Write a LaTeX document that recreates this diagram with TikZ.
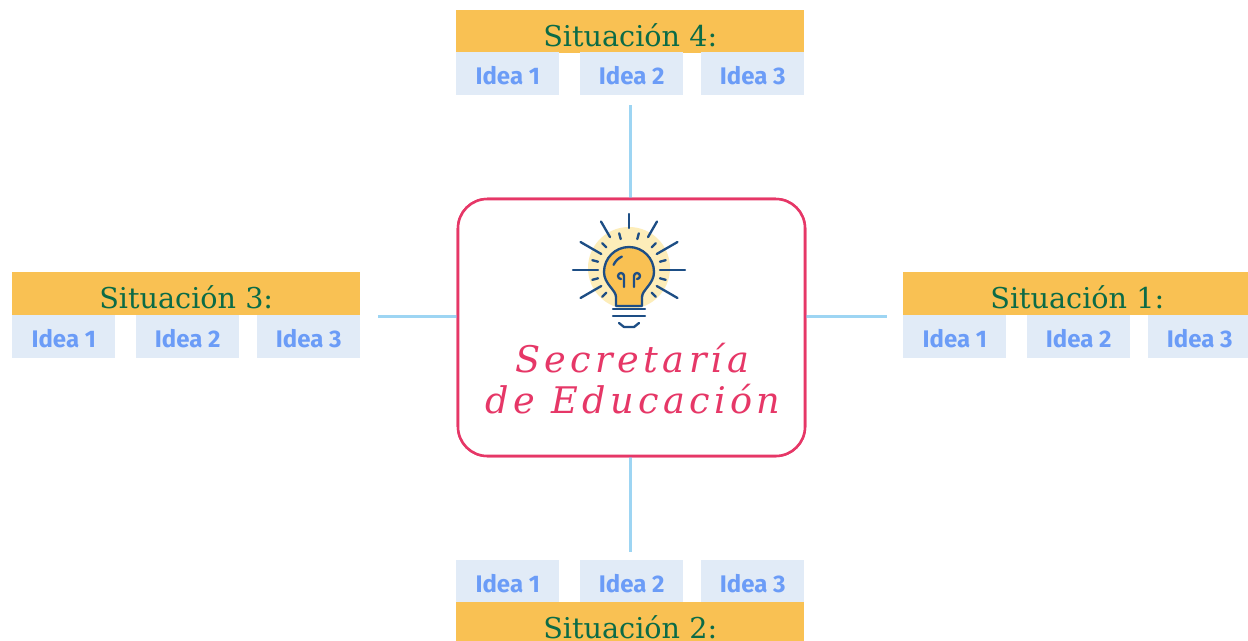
\documentclass[tikz,border=0pt]{standalone}
\usepackage{fontspec}
\newfontfamily\headfont{DejaVu Serif}
\newfontfamily\titlefont[LetterSpace=12]{DejaVu Serif}
\newfontfamily\ideafont{Fira Sans}
\definecolor{headc}{HTML}{F9C153}
\definecolor{greenc}{HTML}{0B6B47}
\definecolor{ideac}{HTML}{E1EBF7}
\definecolor{ideatxt}{HTML}{6B9CF7}
\definecolor{connc}{HTML}{9DD5F3}
\definecolor{pinkc}{HTML}{E63767}
\definecolor{rayc}{HTML}{1D4E85}
\definecolor{glowc}{HTML}{FDEDB9}
\definecolor{bulbc}{HTML}{F9C153}
\begin{document}
\begin{tikzpicture}[x=0.75pt,y=-0.75pt,
  headbox/.style={fill=headc, text=greenc, font=\headfont\fontsize{21.5}{24}\selectfont,
    minimum width=261pt, inner sep=0pt, text height=27pt, text depth=5.25pt, anchor=north west},
  ideabox/.style={fill=ideac, text=ideatxt, font=\ideafont\bfseries\fontsize{18}{20}\selectfont,
    minimum width=77.25pt, inner sep=0pt, text height=24pt, text depth=8.25pt, anchor=north west},
  conn/.style={draw=connc, line width=2.25pt},
  centerbox/.style={draw=pinkc, fill=white, line width=1.9pt, rounded corners=22pt,
    minimum width=260.25pt, minimum height=192.75pt, inner sep=0pt},
  titlest/.style={text=pinkc, font=\titlefont\itshape\fontsize{27.5}{30}\selectfont, inner sep=0pt, anchor=base},
  ray/.style={draw=rayc, line width=1.75pt, line cap=round},
  icon/.style={draw=rayc, line width=1.75pt, line cap=round, line join=round}]
\useasboundingbox (0,0) rectangle (1248,640);
\clip (0,0) rectangle (1248,640);

% top group (Situacion 4)
\node[headbox] (h4) at (456,10) {Situación 4:};
\node[ideabox] (t1) at (456,52) {Idea 1};
\node[ideabox] (t2) at (580,52) {Idea 2};
\node[ideabox] (t3) at (701,52) {Idea 3};

% left group (Situacion 3)
\node[headbox] (h3) at (12,272) {Situación 3:};
\node[ideabox] (l1) at (12,315) {Idea 1};
\node[ideabox] (l2) at (136,315) {Idea 2};
\node[ideabox] (l3) at (257,315) {Idea 3};

% right group (Situacion 1)
\node[headbox] (h1) at (903,272) {Situación 1:};
\node[ideabox] (r1) at (903,315) {Idea 1};
\node[ideabox] (r2) at (1027,315) {Idea 2};
\node[ideabox] (r3) at (1148,315) {Idea 3};

% bottom group (Situacion 2)
\node[ideabox] (b1) at (456,560) {Idea 1};
\node[ideabox] (b2) at (580,560) {Idea 2};
\node[ideabox] (b3) at (701,560) {Idea 3};
\node[headbox] (h2) at (456,602) {Situación 2:};

% centre box placement
\path (631.5,327.5) coordinate (cpos);
\coordinate (topend) at (630,105);
\coordinate (botend) at (630,552);
\coordinate (leftend) at (378,316);
\coordinate (rightend) at (887,316);
\node[centerbox] (center) at (cpos) {};
\draw[conn] (topend) -- (topend |- center.north);
\draw[conn] (center.south -| botend) -- (botend);
\draw[conn] (leftend) -- (leftend -| center.west);
\draw[conn] (center.east |- rightend) -- (rightend);
\node[centerbox] at (cpos) {};

% bulb icon
\fill[glowc] (629,268) circle (41);
\foreach \a/\ri in {270/42,240/38,300/38,210/32,330/32,180/31,0/31,150/32,30/32}
  \draw[ray, shift={(629,270)}] (\a:\ri) -- (\a:56);
\foreach \a in {255,285,225,315,195,345,165,15,135,45}
  \draw[ray, shift={(629,270)}] (\a:32) -- (\a:38);
\filldraw[icon, fill=bulbc] (616,306) -- (616,297) .. controls (616,290) and (604,284) .. (604,272)
  arc (180:360:25) .. controls (654,284) and (642,290) .. (642,297) -- (642,306) -- cycle;
\draw[icon] (624,287) -- (624,276) arc (0:-270:3);
\draw[icon] (634,287) -- (634,276) arc (180:450:3);
\draw[icon] (629,272) ++(205:17) arc (205:245:17);
\draw[icon] (613,309) -- (645,309);
\draw[icon] (613,316) -- (645,316);
\draw[icon] (619,323) -- (624,327) -- (634,327) -- (639,323);

% title
\node[titlest] (title1) at (632,372) {Secretaría};
\node[titlest] (title2) at (633,413) {de Educación};
\end{tikzpicture}
\end{document}
